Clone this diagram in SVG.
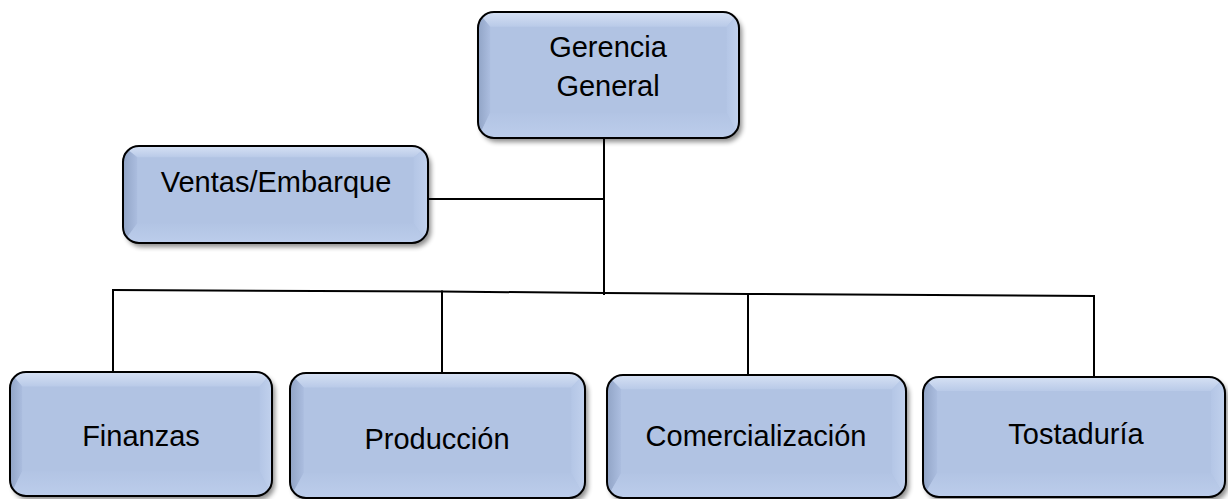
<svg xmlns="http://www.w3.org/2000/svg" width="1228" height="499" viewBox="0 0 1228 499">
<defs>
<linearGradient id="gt" x1="0" y1="0" x2="0" y2="1">
<stop offset="0" stop-color="#d6e1f4"/>
<stop offset="1" stop-color="#b9cae8"/>
</linearGradient>
<linearGradient id="gl" x1="0" y1="0" x2="1" y2="0">
<stop offset="0" stop-color="#91a4c6"/>
<stop offset="1" stop-color="#abbddf"/>
</linearGradient>
<linearGradient id="gr" x1="0" y1="0" x2="1" y2="0">
<stop offset="0" stop-color="#b4c6e6"/>
<stop offset="1" stop-color="#c1d1ed"/>
</linearGradient>
<linearGradient id="gb" x1="0" y1="0" x2="0" y2="1">
<stop offset="0" stop-color="#b2c4e4"/>
<stop offset="1" stop-color="#bccdeb"/>
</linearGradient>
<clipPath id="bc"><rect width="300" height="120" rx="16"/></clipPath>
<symbol id="bev" viewBox="0 0 300 120" preserveAspectRatio="none">
<g clip-path="url(#bc)">
<rect width="300" height="120" fill="#b1c3e3"/>
<polygon points="0,0 300,0 286,14 14,14" fill="url(#gt)"/>
<polygon points="0,0 14,14 14,96 0,120" fill="url(#gl)"/>
<polygon points="300,0 300,120 286,96 286,14" fill="url(#gr)"/>
<polygon points="0,120 14,96 286,96 300,120" fill="url(#gb)"/>
</g>
</symbol>
<filter id="sh" x="-10%" y="-10%" width="130%" height="130%">
<feGaussianBlur stdDeviation="2.5"/>
</filter>
</defs>
<style>
.shadow{fill:#000;opacity:0.45;filter:url(#sh)}
.edge{fill:none;stroke:#000;stroke-width:2}
.t{font-family:"Liberation Sans",Arial,sans-serif;font-size:29px;fill:#000;text-anchor:middle}
.c{fill:none;stroke:#000;stroke-width:2;stroke-linecap:square}
</style>
<g id="connectors">
<line class="c" x1="604" y1="138" x2="604" y2="294"/>
<line class="c" x1="428" y1="199" x2="604" y2="199"/>
<polyline class="c" points="113,290 442,291.5 604,293 748,294 1094,296"/>
<line class="c" x1="113" y1="290" x2="113" y2="372"/>
<line class="c" x1="442" y1="291.5" x2="442" y2="373"/>
<line class="c" x1="748" y1="294" x2="748" y2="375"/>
<line class="c" x1="1094" y1="296" x2="1094" y2="377"/>
</g>
<g id="gerencia">
<rect class="shadow" x="481" y="16" width="261" height="126" rx="16"/>
<use href="#bev" x="478" y="12" width="261" height="126"/>
<rect class="edge" x="478" y="12" width="261" height="126" rx="16"/>
<text class="t" x="608" y="57">Gerencia</text>
<text class="t" x="608" y="96">General</text>
</g>
<g id="ventas">
<rect class="shadow" x="126" y="150" width="305" height="97" rx="16"/>
<use href="#bev" x="123" y="146" width="305" height="97"/>
<rect class="edge" x="123" y="146" width="305" height="97" rx="16"/>
<text class="t" x="276" y="192">Ventas/Embarque</text>
</g>
<g id="finanzas">
<rect class="shadow" x="13" y="376" width="262" height="124" rx="16"/>
<use href="#bev" x="10" y="372" width="262" height="124"/>
<rect class="edge" x="10" y="372" width="262" height="124" rx="16"/>
<text class="t" x="141" y="446">Finanzas</text>
</g>
<g id="produccion">
<rect class="shadow" x="293" y="377" width="295" height="125" rx="16"/>
<use href="#bev" x="290" y="373" width="295" height="125"/>
<rect class="edge" x="290" y="373" width="295" height="125" rx="16"/>
<text class="t" x="437" y="449">Producción</text>
</g>
<g id="comercializacion">
<rect class="shadow" x="610" y="379" width="299" height="123" rx="16"/>
<use href="#bev" x="607" y="375" width="299" height="123"/>
<rect class="edge" x="607" y="375" width="299" height="123" rx="16"/>
<text class="t" x="756" y="446">Comercialización</text>
</g>
<g id="tostaduria">
<rect class="shadow" x="926" y="381" width="302" height="120" rx="16"/>
<use href="#bev" x="923" y="377" width="302" height="120"/>
<rect class="edge" x="923" y="377" width="302" height="120" rx="16"/>
<text class="t" x="1076" y="444">Tostaduría</text>
</g>
</svg>
